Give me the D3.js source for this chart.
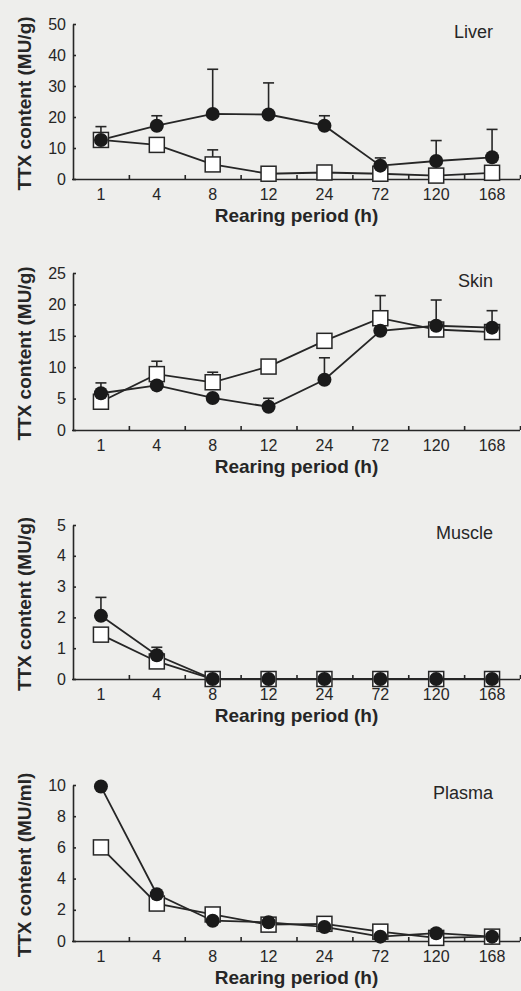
<!DOCTYPE html>
<html>
<head>
<meta charset="utf-8">
<script src="https://cdn.jsdelivr.net/npm/d3@7"></script>
<style>
  html, body { margin: 0; padding: 0; background: #eeeeec; }
  svg { display: block; }
  text { font-family: "Liberation Sans", Arial, sans-serif; fill: #262626; }
</style>
</head>
<body>
<svg id="chart" width="521" height="991"></svg>
<script>
// ---------------- data ----------------
const categories = ["1", "4", "8", "12", "24", "72", "120", "168"];

const panelNames = ["Liver", "Skin", "Muscle", "Plasma"];
const panelUnits = ["TTX content (MU/g)", "TTX content (MU/g)", "TTX content (MU/g)", "TTX content (MU/ml)"];

const liverTicks = [0, 10, 20, 30, 40, 50];
const skinTicks = [0, 5, 10, 15, 20, 25];
const muscleTicks = [0, 1, 2, 3, 4, 5];
const plasmaTicks = [0, 2, 4, 6, 8, 10];

// filled circles
const liverFilled    = [12.6, 17.2, 21.0, 20.8, 17.2, 4.3, 5.8, 7.0];
const liverFilledErr = [4.3, 3.2, 14.4, 10.2, 3.2, 2.5, 6.6, 9.0];
// open squares
const liverOpen      = [12.6, 11.0, 4.7, 1.7, 2.1, 1.7, 1.1, 2.0];
const liverOpenErr   = [0, 0, 4.7, 0, 0, 0, 0, 0];

const skinFilled     = [5.85, 7.1, 5.1, 3.7, 8.0, 15.8, 16.6, 16.3];
const skinFilledErr  = [1.65, 0, 0, 1.35, 3.5, 0, 4.1, 2.7];
const skinOpen       = [4.5, 8.9, 7.6, 10.1, 14.2, 17.8, 16.0, 15.6];
const skinOpenErr    = [0, 2.05, 1.6, 0, 0, 3.6, 0, 0];

const muscleFilled    = [2.05, 0.77, 0, 0, 0, 0, 0, 0];
const muscleFilledErr = [0.6, 0.26, 0, 0, 0, 0, 0, 0];
const muscleOpen      = [1.44, 0.57, 0, 0, 0, 0, 0, 0];
const muscleOpenErr   = [0, 0, 0, 0, 0, 0, 0, 0];

const plasmaFilled    = [9.9, 3.0, 1.3, 1.2, 0.9, 0.28, 0.5, 0.28];
const plasmaFilledErr = [0, 0, 0, 0, 0, 0, 0, 0];
const plasmaOpen      = [6.0, 2.4, 1.7, 1.05, 1.1, 0.6, 0.2, 0.28];
const plasmaOpenErr   = [0, 0, 0, 0, 0, 0, 0, 0];

const xTitle = "Rearing period (h)";

// ---------------- layout ----------------
const panels = [
  { name: panelNames[0], unit: panelUnits[0], ticks: liverTicks,  top: 24,  bottom: 179,
    filled: liverFilled, filledErr: liverFilledErr, open: liverOpen, openErr: liverOpenErr },
  { name: panelNames[1], unit: panelUnits[1], ticks: skinTicks,   top: 273, bottom: 430,
    filled: skinFilled, filledErr: skinFilledErr, open: skinOpen, openErr: skinOpenErr },
  { name: panelNames[2], unit: panelUnits[2], ticks: muscleTicks, top: 525, bottom: 679,
    filled: muscleFilled, filledErr: muscleFilledErr, open: muscleOpen, openErr: muscleOpenErr },
  { name: panelNames[3], unit: panelUnits[3], ticks: plasmaTicks, top: 785, bottom: 941,
    filled: plasmaFilled, filledErr: plasmaFilledErr, open: plasmaOpen, openErr: plasmaOpenErr }
];

const left = 73, right = 520;
const ink = "#262626";
const svg = d3.select("#chart");

const x = d3.scaleBand().domain(categories).range([left, right]).padding(0);
const xEdges = d3.scaleLinear().domain([0, categories.length]).range([left, right]);

panels.forEach(p => {
  const y = d3.scaleLinear().domain([p.ticks[0], p.ticks[p.ticks.length - 1]]).range([p.bottom, p.top]);
  const g = svg.append("g");

  // y axis
  const ya = g.append("g").attr("transform", `translate(${left},0)`)
    .call(d3.axisLeft(y).tickValues(p.ticks).tickFormat(d3.format("d"))
      .tickSizeInner(-3).tickSizeOuter(0).tickPadding(7));
  // x axis labels
  const xa = g.append("g").attr("transform", `translate(0,${p.bottom})`)
    .call(d3.axisBottom(x).tickSize(0).tickPadding(10));
  // x axis boundary ticks (inward)
  const xb = g.append("g").attr("transform", `translate(0,${p.bottom})`)
    .call(d3.axisBottom(xEdges).tickValues(d3.range(1, categories.length + 1)).tickSizeInner(-4).tickSizeOuter(0).tickFormat(""));
  xb.select(".domain").remove();
  xa.select(".domain").attr("d", `M${left - 1},0.5H${right}`);

  [ya, xa, xb].forEach(a => {
    a.selectAll(".domain, line").attr("stroke", ink).attr("stroke-width", 1.6);
    a.selectAll("text").attr("fill", ink).style("font-size", "16px").style("font-family", "'Liberation Sans', Arial, sans-serif");
  });

  // y title
  g.append("text")
    .attr("transform", `translate(31,${(p.top + p.bottom) / 2 + 2}) rotate(-90)`)
    .attr("text-anchor", "middle")
    .style("font-size", "19px").style("font-weight", "bold")
    .text(p.unit);

  // x title
  g.append("text")
    .attr("x", (left + right) / 2).attr("y", p.bottom + 43)
    .attr("text-anchor", "middle")
    .style("font-size", "19px").style("font-weight", "bold")
    .text(xTitle);

  // panel name
  g.append("text")
    .attr("x", 493).attr("y", p.top + 14)
    .attr("text-anchor", "end")
    .style("font-size", "18px")
    .text(p.name);

  const line = d3.line().x((d, i) => x(categories[i]) + x.bandwidth() / 2).y(d => y(d));
  const cx = i => x(categories[i]) + x.bandwidth() / 2;

  function errBars(vals, errs) {
    const eg = g.append("g").attr("stroke", ink).attr("stroke-width", 1.6);
    vals.forEach((v, i) => {
      if (!errs[i]) return;
      eg.append("line").attr("x1", cx(i)).attr("x2", cx(i)).attr("y1", y(v)).attr("y2", y(v + errs[i]));
      eg.append("line").attr("x1", cx(i) - 5.5).attr("x2", cx(i) + 5.5).attr("y1", y(v + errs[i])).attr("y2", y(v + errs[i]));
    });
  }

  errBars(p.open, p.openErr);
  errBars(p.filled, p.filledErr);

  g.append("path").datum(p.open).attr("d", line).attr("fill", "none").attr("stroke", ink).attr("stroke-width", 1.8);
  g.append("path").datum(p.filled).attr("d", line).attr("fill", "none").attr("stroke", ink).attr("stroke-width", 1.8);

  g.append("g").selectAll("rect").data(p.open).join("rect")
    .attr("x", (d, i) => cx(i) - 7.5).attr("y", d => y(d) - 7.5)
    .attr("width", 15).attr("height", 15)
    .attr("fill", "#ffffff").attr("stroke", ink).attr("stroke-width", 1.5);

  g.append("g").selectAll("circle").data(p.filled).join("circle")
    .attr("cx", (d, i) => cx(i)).attr("cy", d => y(d)).attr("r", 7)
    .attr("fill", "#1a1a1a");
});
</script>
</body>
</html>
